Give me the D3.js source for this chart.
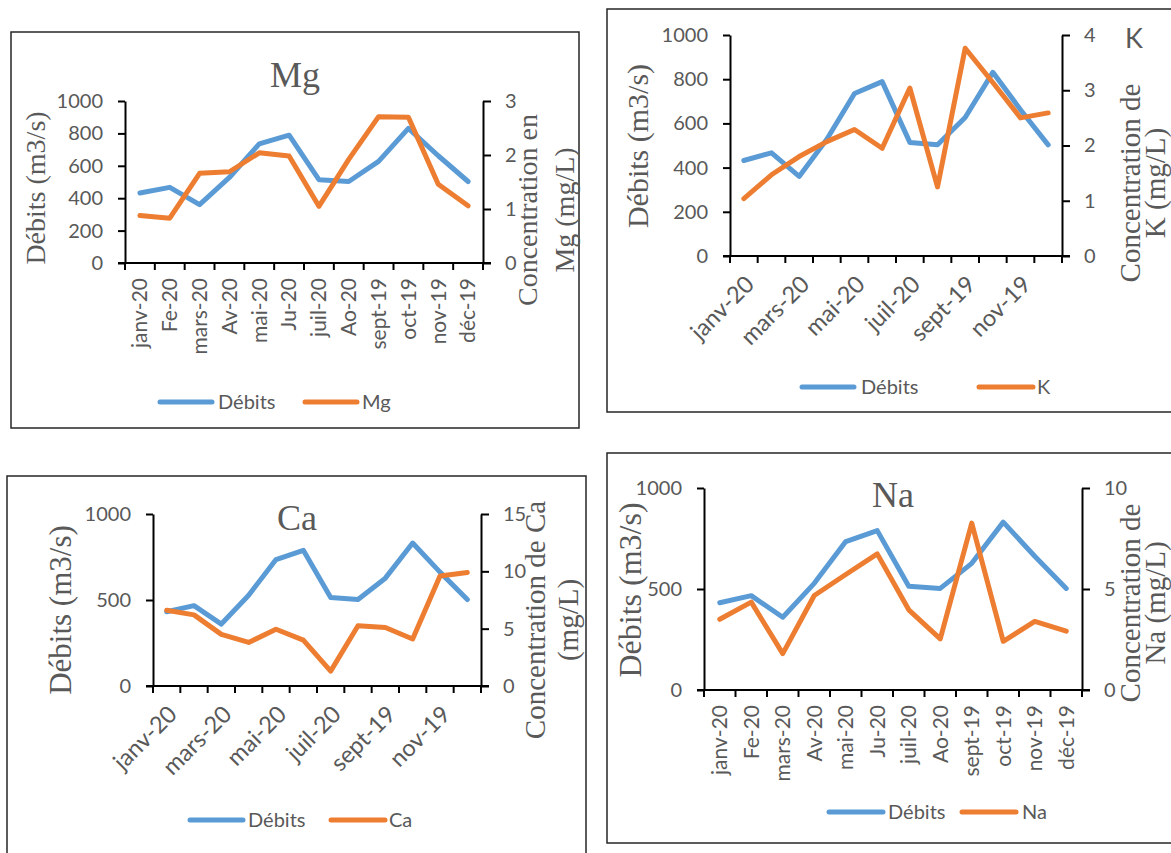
<!DOCTYPE html>
<html>
<head>
<meta charset="utf-8">
<script src="https://cdn.jsdelivr.net/npm/d3@7"></script>
<style>
  html, body { margin: 0; padding: 0; background: #fff; }
  svg { display: block; }
  .tick text, .lbl { font-family: Lato, "Open Sans", sans-serif; fill: #595959; }
  .serif { font-family: "Liberation Serif", "DejaVu Serif", serif; fill: #595959; }
</style>
</head>
<body>
<svg id="chart" width="1171" height="853"></svg>
<script>
// Monthly river discharge and ion concentrations
const months = ["janv-20","Fe-20","mars-20","Av-20","mai-20","Ju-20","juil-20","Ao-20","sept-19","oct-19","nov-19","déc-19"];
const debits = [432, 467, 360, 528, 735, 789, 514, 503, 627, 831, 662, 503];
const mg = [0.88, 0.83, 1.66, 1.69, 2.04, 1.98, 1.05, 1.92, 2.71, 2.70, 1.46, 1.06];
const k  = [1.04, 1.47, 1.80, 2.07, 2.29, 1.95, 3.04, 1.25, 3.76, 3.14, 2.50, 2.59];
const ca = [6.6, 6.2, 4.5, 3.8, 4.95, 4.0, 1.3, 5.25, 5.1, 4.1, 9.6, 9.9];
const na = [3.5, 4.35, 1.8, 4.68, 5.72, 6.74, 3.97, 2.53, 8.26, 2.41, 3.4, 2.91];

const debitTicks6 = [0, 200, 400, 600, 800, 1000];
const debitTicks3 = [0, 500, 1000];
const mgTicks = [0, 1, 2, 3];
const kTicks = [0, 1, 2, 3, 4];
const caTicks = [0, 5, 10, 15];
const naTicks = [0, 5, 10];

const BLUE = "#5B9BD5", ORANGE = "#ED7D31";

const panels = [
  { name: "Mg", values: mg, box: [11, 32, 568, 396],
    plot: { l: 125, r: 483, t: 101, b: 263 }, lTicks: debitTicks6, rTicks: mgTicks,
    xmode: "v",
    title: { x: 295, y: 87, size: 36, serif: true },
    lTitle: { x: 35, y: 188, size: 28 },
    rTitle: { lines: ["Concentration en", "Mg (mg/L)"], xs: [527, 564], y: 210, size: 28 },
    legend: { y: 402, b: [160, 212], bt: 218, o: [305, 357], ot: 362 } },
  { name: "K", values: k, box: [607, 9, 600, 403],
    plot: { l: 730, r: 1062, t: 35, b: 256 }, lTicks: debitTicks6, rTicks: kTicks,
    xmode: "d",
    title: { x: 1134, y: 48, size: 27, serif: false },
    lTitle: { x: 637, y: 146, size: 30 },
    rTitle: { lines: ["Concentration de", "K (mg/L)"], xs: [1130, 1155], y: 183, size: 29 },
    legend: { y: 387, b: [802, 854], bt: 861, o: [979, 1033], ot: 1037 } },
  { name: "Ca", values: ca, box: [7, 476, 579, 400],
    plot: { l: 153, r: 481, t: 514, b: 686 }, lTicks: debitTicks3, rTicks: caTicks,
    xmode: "d",
    title: { x: 297, y: 530, size: 36, serif: true },
    lTitle: { x: 60, y: 610, size: 31 },
    rTitle: { lines: ["Concentration de Ca", "(mg/L)"], xs: [535, 568], y: 620, size: 29 },
    legend: { y: 820, b: [190, 243], bt: 248, o: [331, 385], ot: 389 } },
  { name: "Na", values: na, box: [607, 453, 600, 390],
    plot: { l: 704, r: 1082, t: 488, b: 690 }, lTicks: debitTicks3, rTicks: naTicks,
    xmode: "v",
    title: { x: 893, y: 507, size: 36, serif: true },
    lTitle: { x: 630, y: 590, size: 32 },
    rTitle: { lines: ["Concentration de", "Na (mg/L)"], xs: [1130, 1155], y: 603, size: 29 },
    legend: { y: 812, b: [829, 883], bt: 888, o: [962, 1016], ot: 1022 } }
];

const svg = d3.select("#chart");
const fmt = d3.format("d");

panels.forEach(p => {
  const g = svg.append("g");
  const [bx, by, bw, bh] = p.box;
  g.append("rect").attr("x", bx).attr("y", by).attr("width", bw).attr("height", bh)
    .attr("fill", "none").attr("stroke", "#262626").attr("stroke-width", 1.5);

  const x = d3.scaleBand().domain(months).range([p.plot.l, p.plot.r]);
  const cx = m => x(m) + x.bandwidth() / 2;
  const yL = d3.scaleLinear().domain([0, 1000]).range([p.plot.b, p.plot.t]);
  const rMax = p.rTicks[p.rTicks.length - 1];
  const yR = d3.scaleLinear().domain([0, rMax]).range([p.plot.b, p.plot.t]);

  const styleAxis = sel => {
    sel.selectAll(".domain").attr("stroke", "#000").attr("stroke-width", 2);
    sel.selectAll(".tick line").attr("stroke", "#000").attr("stroke-width", 2);
    sel.selectAll(".tick text").attr("font-size", 20).attr("fill", "#595959")
      .attr("font-family", "Lato, sans-serif");
  };

  g.append("g").attr("transform", `translate(${p.plot.l},0)`)
    .call(d3.axisLeft(yL).tickValues(p.lTicks).tickFormat(fmt).tickSize(7).tickSizeOuter(0).tickPadding(15))
    .call(styleAxis);
  g.append("g").attr("transform", `translate(${p.plot.r},0)`)
    .call(d3.axisRight(yR).tickValues(p.rTicks).tickFormat(fmt).tickSize(8).tickSizeOuter(0).tickPadding(14))
    .call(styleAxis);

  // category axis: ticks at band edges
  const xa = g.append("g");
  xa.append("line").attr("x1", p.plot.l - 7).attr("x2", p.plot.r + 8)
    .attr("y1", p.plot.b).attr("y2", p.plot.b).attr("stroke", "#000").attr("stroke-width", 2);
  const edges = months.map(m => x(m)).concat([p.plot.r]);
  xa.selectAll("line.edge").data(edges).join("line").attr("class", "edge")
    .attr("x1", d => d).attr("x2", d => d).attr("y1", p.plot.b).attr("y2", p.plot.b + 7)
    .attr("stroke", "#000").attr("stroke-width", 2);

  if (p.xmode === "v") {
    xa.selectAll("text.xl").data(months).join("text").attr("class", "xl lbl")
      .attr("transform", m => `translate(${cx(m)},${p.plot.b + 15}) rotate(-90)`)
      .attr("text-anchor", "end").attr("dy", "0.35em").attr("font-size", 21)
      .text(m => m);
  } else {
    xa.selectAll("text.xl").data(months.filter((m, i) => i % 2 === 0)).join("text").attr("class", "xl lbl")
      .attr("transform", m => `translate(${cx(m) + 6},${p.plot.b + 24}) rotate(-45)`)
      .attr("text-anchor", "end").attr("dy", "0.35em").attr("font-size", 23.5)
      .text(m => m);
  }

  const lineD = d3.line().x((d, i) => cx(months[i])).y(d => yL(d));
  const lineC = d3.line().x((d, i) => cx(months[i])).y(d => yR(d));
  g.append("path").attr("d", lineD(debits)).attr("fill", "none").attr("stroke", BLUE)
    .attr("stroke-width", 5).attr("stroke-linecap", "round").attr("stroke-linejoin", "round");
  g.append("path").attr("d", lineC(p.values)).attr("fill", "none").attr("stroke", ORANGE)
    .attr("stroke-width", 5).attr("stroke-linecap", "round").attr("stroke-linejoin", "round");

  // chart title
  g.append("text").attr("class", p.title.serif ? "serif" : "lbl")
    .attr("x", p.title.x).attr("y", p.title.y).attr("text-anchor", "middle")
    .attr("font-size", p.title.size).text(p.name);

  // axis titles
  g.append("text").attr("class", "serif")
    .attr("transform", `translate(${p.lTitle.x},${p.lTitle.y}) rotate(-90)`)
    .attr("text-anchor", "middle").attr("dy", "0.35em").attr("font-size", p.lTitle.size)
    .text("Débits (m3/s)");
  p.rTitle.lines.forEach((t, i) => {
    g.append("text").attr("class", "serif")
      .attr("transform", `translate(${p.rTitle.xs[i]},${p.rTitle.y}) rotate(-90)`)
      .attr("text-anchor", "middle").attr("dy", "0.35em").attr("font-size", p.rTitle.size)
      .text(t);
  });

  // legend
  const lg = p.legend;
  g.append("line").attr("x1", lg.b[0]).attr("x2", lg.b[1]).attr("y1", lg.y).attr("y2", lg.y)
    .attr("stroke", BLUE).attr("stroke-width", 5).attr("stroke-linecap", "round");
  g.append("text").attr("class", "lbl").attr("x", lg.bt).attr("y", lg.y).attr("dy", "0.35em")
    .attr("font-size", 20).text("Débits");
  g.append("line").attr("x1", lg.o[0]).attr("x2", lg.o[1]).attr("y1", lg.y).attr("y2", lg.y)
    .attr("stroke", ORANGE).attr("stroke-width", 5).attr("stroke-linecap", "round");
  g.append("text").attr("class", "lbl").attr("x", lg.ot).attr("y", lg.y).attr("dy", "0.35em")
    .attr("font-size", 20).text(p.name);
});
</script>
</body>
</html>
